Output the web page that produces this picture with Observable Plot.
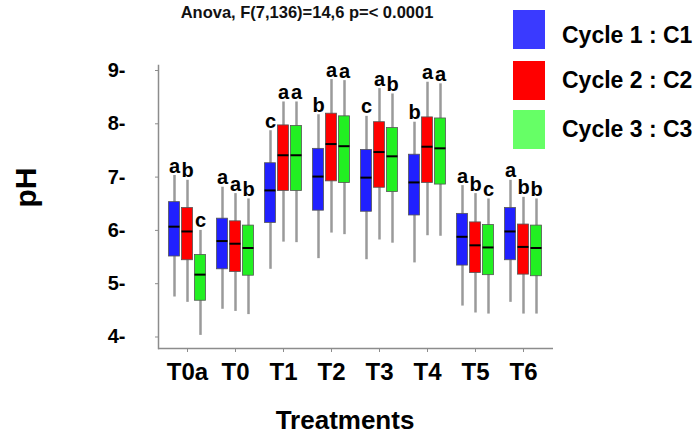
<!DOCTYPE html>
<html>
<head>
<meta charset="utf-8">
<script src="https://cdn.jsdelivr.net/npm/d3@7"></script>
<script src="https://cdn.jsdelivr.net/npm/@observablehq/plot@0.6"></script>
<style>
  body { margin: 0; background: #fff; font-family: "Liberation Sans", Arial, sans-serif; }
  #chart { position: relative; width: 700px; height: 434px; }
  #chart svg { position: absolute; left: 0; top: 0; }
  .title { position: absolute; left: 307px; top: 3px; transform: translateX(-50%); white-space: nowrap;
           font-weight: bold; font-size: 16.5px; line-height: 19px; color: #111; }
  .swatch { position: absolute; left: 513px; width: 32px; height: 39px; }
  .key { position: absolute; left: 562px; white-space: nowrap; font-weight: bold; font-size: 23px;
         line-height: 26px; color: #000; }
</style>
</head>
<body>
<div id="chart"></div>
<script>
// Treatments on the x axis and the three sampling cycles
const treatments = ["T0a", "T0", "T1", "T2", "T3", "T4", "T5", "T6"];
const cycles = ["Cycle 1 : C1", "Cycle 2 : C2", "Cycle 3 : C3"];
const yTicks = [4, 5, 6, 7, 8, 9];

// Cycle 1: whisker low, first quartile, median, third quartile, whisker high, group letter
const c1Low = [4.75, 4.52, 5.27, 5.47, 5.45, 5.39, 4.58, 4.65];
const c1Q1 = [5.51, 5.27, 6.14, 6.37, 6.35, 6.28, 5.34, 5.44];
const c1Med = [6.07, 5.80, 6.75, 7.01, 6.99, 6.90, 5.88, 5.98];
const c1Q3 = [6.53, 6.22, 7.26, 7.53, 7.51, 7.42, 6.31, 6.42];
const c1High = [7.03, 6.81, 7.87, 8.17, 8.14, 8.03, 6.84, 6.94];
const c1Letters = ["a", "a", "c", "b", "c", "b", "a", "a"];

// Cycle 2
const c2Low = [4.65, 4.48, 5.78, 5.95, 5.82, 5.90, 4.45, 4.43];
const c2Q1 = [5.44, 5.22, 6.74, 6.92, 6.80, 6.89, 5.20, 5.17];
const c2Med = [5.98, 5.75, 7.41, 7.62, 7.47, 7.57, 5.72, 5.69];
const c2Q3 = [6.42, 6.17, 7.97, 8.19, 8.03, 8.12, 6.15, 6.11];
const c2High = [6.94, 6.69, 8.41, 8.83, 8.66, 8.78, 6.69, 6.62];
const c2Letters = ["b", "a", "a", "a", "a", "a", "b", "b"];

// Cycle 3
const c3Low = [4.03, 4.42, 5.77, 5.92, 5.76, 5.89, 4.43, 4.43];
const c3Q1 = [4.68, 5.15, 6.74, 6.89, 6.72, 6.86, 5.16, 5.14];
const c3Med = [5.17, 5.67, 7.41, 7.58, 7.39, 7.54, 5.68, 5.67];
const c3Q3 = [5.54, 6.09, 7.96, 8.14, 7.92, 8.10, 6.10, 6.09];
const c3High = [6.00, 6.59, 8.41, 8.81, 8.56, 8.75, 6.59, 6.59];
const c3Letters = ["c", "b", "a", "a", "b", "a", "c", "b"];

const series = [
  {low: c1Low, q1: c1Q1, med: c1Med, q3: c1Q3, high: c1High, letters: c1Letters},
  {low: c2Low, q1: c2Q1, med: c2Med, q3: c2Q3, high: c2High, letters: c2Letters},
  {low: c3Low, q1: c3Q1, med: c3Med, q3: c3Q3, high: c3High, letters: c3Letters}
];

const boxFill = ["#2020ff", "#ff0000", "#22f022"];
const keyFill = ["#3a3aff", "#ff0000", "#66ff66"];
const offsets = [-13, 0, 13];
const inset = 13.5;
const axisGray = "#8c8c8c";
const yDomain = [3.784, 9.094];

const rowsFor = (k) => treatments.map((t, i) => ({
  treatment: t,
  low: series[k].low[i], q1: series[k].q1[i], med: series[k].med[i],
  q3: series[k].q3[i], high: series[k].high[i], letter: series[k].letters[i]
}));

const marks = [
  Plot.frame({anchor: "left", stroke: axisGray, strokeWidth: 1.5}),
  Plot.ruleY([yDomain[0]], {stroke: axisGray, strokeWidth: 1.5}),
  Plot.axisY({ticks: yTicks, tickSize: 3, fill: "none", stroke: axisGray, label: null}),
  Plot.axisY({ticks: yTicks, tickSize: 0, tickPadding: 33, tickFormat: (d) => `${d}-`,
    fontSize: 20, fontWeight: "bold", label: null}),
  Plot.axisX({tickSize: 4, fill: "none", stroke: axisGray, label: null}),
  Plot.axisX({tickSize: 0, tickPadding: 14, fontSize: 24, fontWeight: "bold", label: null})
];

// whiskers first so the boxes sit on top of them
series.forEach((s, k) => {
  marks.push(Plot.ruleX(rowsFor(k), {x: "treatment", y1: "low", y2: "high", dx: offsets[k],
    stroke: "#9a9a9a", strokeWidth: 2.5}));
});
series.forEach((s, k) => {
  const d = rowsFor(k);
  marks.push(Plot.barY(d, {x: "treatment", y1: "q1", y2: "q3", dx: offsets[k],
    insetLeft: inset, insetRight: inset, fill: boxFill[k], stroke: "#555", strokeWidth: 0.8}));
  marks.push(Plot.tickY(d, {x: "treatment", y: "med", dx: offsets[k],
    insetLeft: inset, insetRight: inset, stroke: "#000", strokeWidth: 2}));
  marks.push(Plot.text(d, {x: "treatment", y: "high", text: "letter", dx: offsets[k], dy: -3,
    lineAnchor: "bottom", fontSize: 20, fontWeight: "bold", fill: "#000"}));
});

marks.push(Plot.text(["pH"], {text: (d) => d, frameAnchor: "left", dx: -132, dy: -19.5, rotate: -90,
  textAnchor: "middle", lineAnchor: "middle", fontSize: 30, fontWeight: "bold"}));
marks.push(Plot.text(["Treatments"], {text: (d) => d, frameAnchor: "bottom", dx: -11, dy: 72,
  textAnchor: "middle", lineAnchor: "middle", fontSize: 26, fontWeight: "bold"}));

const chart = Plot.plot({
  width: 700,
  height: 434,
  marginLeft: 158,
  marginRight: 147,
  marginTop: 65,
  marginBottom: 86,
  style: {fontFamily: "Liberation Sans, Arial, sans-serif", background: "transparent", color: "#000"},
  x: {domain: treatments, padding: 0.2, label: null},
  y: {domain: yDomain, label: null},
  marks
});

const root = document.getElementById("chart");
root.appendChild(chart);

const title = document.createElement("div");
title.className = "title";
title.textContent = "Anova, F(7,136)=14,6 p=< 0.0001";
root.appendChild(title);

// legend: colour swatches with the cycle names
const swatchTops = [10, 61, 110];
cycles.forEach((c, k) => {
  const sw = document.createElement("div");
  sw.className = "swatch";
  sw.style.top = swatchTops[k] + "px";
  sw.style.background = keyFill[k];
  root.appendChild(sw);
  const key = document.createElement("div");
  key.className = "key";
  key.style.top = (swatchTops[k] + 19.5 - 13 + (k === 0 ? 5 : -1)) + "px";
  key.textContent = c;
  root.appendChild(key);
});
</script>
</body>
</html>
